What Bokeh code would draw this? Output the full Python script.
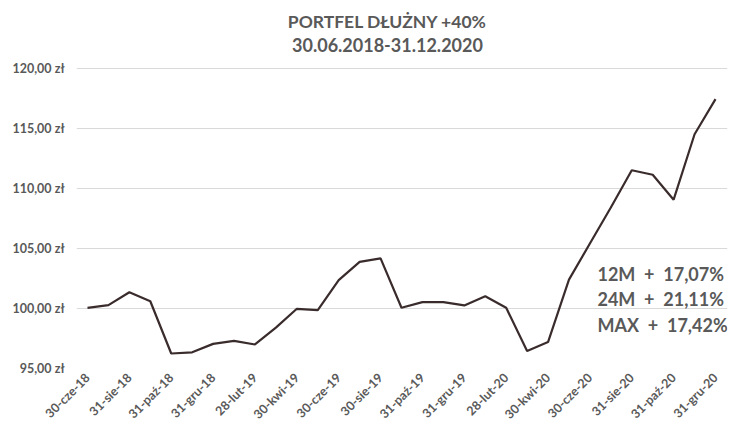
import math
from bokeh.plotting import figure
from bokeh.models import FixedTicker, Label, ColumnDataSource
from bokeh.embed import file_html
from bokeh.resources import INLINE

# ---- data ----
title_lines = ["PORTFEL DŁUŻNY +40%", "30.06.2018-31.12.2020"]
values = [100.05, 100.27, 101.35, 100.60, 96.25, 96.35, 97.05, 97.30, 97.00,
          98.40, 99.97, 99.86, 102.35, 103.87, 104.17, 100.06, 100.52, 100.52,
          100.25, 101.02, 100.06, 96.46, 97.20, 102.40, 105.40, 108.40, 111.50,
          111.13, 109.05, 114.50, 117.42]
tick_labels = ["30-cze-18", "31-sie-18", "31-paź-18", "31-gru-18", "28-lut-19",
               "30-kwi-19", "30-cze-19", "30-sie-19", "31-paź-19", "31-gru-19",
               "28-lut-20", "30-kwi-20", "30-cze-20", "31-sie-20", "31-paź-20",
               "31-gru-20"]
y_ticks = [95, 100, 105, 110, 115, 120]
y_tick_labels = ["95,00 zł", "100,00 zł", "105,00 zł", "110,00 zł", "115,00 zł", "120,00 zł"]
NB = "\u00a0"
stats_lines = ["12M" + NB * 2 + "+" + NB * 2 + "17,07%",
               "24M" + NB * 2 + "+" + NB * 2 + "21,11%",
               "MAX" + NB * 2 + "+" + NB * 2 + "17,42%"]

idx = list(range(len(values)))
src = ColumnDataSource(dict(x=idx, y=values))

GREY = "#595959"
FONT = "Lato"

p = figure(width=729, height=430, output_backend="svg", toolbar_location=None,
           x_range=(-0.5255, 30.573), y_range=(95, 125.63),
           min_border_left=76, min_border_right=2, min_border_top=0,
           min_border_bottom=60)
p.outline_line_color = None
p.background_fill_color = "white"

p.line("x", "y", source=src, line_color="#3A2C2C", line_width=2.2)

# axes
p.xaxis.ticker = FixedTicker(ticks=idx[::2])
p.xaxis.major_label_overrides = {i: lab for i, lab in zip(idx[::2], tick_labels)}
p.xaxis.major_label_orientation = math.pi / 4
p.yaxis.ticker = FixedTicker(ticks=y_ticks)
p.yaxis.major_label_overrides = {t: lab for t, lab in zip(y_ticks, y_tick_labels)}
for ax in (p.xaxis, p.yaxis):
    ax.axis_line_color = None
    ax.major_tick_line_color = None
    ax.minor_tick_line_color = None
    ax.major_tick_out = 0
    ax.major_tick_in = 0
    ax.minor_tick_out = 0
    ax.minor_tick_in = 0
    ax.major_label_text_color = GREY
    ax.major_label_text_font = FONT
    ax.major_label_text_font_style = "bold"
p.xaxis.major_label_text_font_size = "12.5px"
p.xaxis.major_label_text_line_height = 1.0
p.yaxis.major_label_text_font_size = "12.5px"
p.yaxis.major_label_standoff = 12
p.xaxis.major_label_standoff = 7

p.xgrid.grid_line_color = None
p.ygrid.ticker = FixedTicker(ticks=y_ticks)
p.ygrid.grid_line_color = "#D9D9D9"
p.ygrid.grid_line_width = 1.2

# title
for text, yy, fs in zip(title_lines, [123.89, 121.90], ["17.5px", "18px"]):
    p.add_layout(Label(x=14.33, y=yy, text=text, text_align="center",
                       text_baseline="middle", text_font=FONT,
                       text_font_style="bold", text_font_size=fs,
                       text_color=GREY))

# stats annotation
for text, yy in zip(stats_lines, [102.86, 100.75, 98.64]):
    p.add_layout(Label(x=24.36, y=yy, text=text, text_align="left",
                       text_baseline="middle", text_font=FONT,
                       text_font_style="bold", text_font_size="18px",
                       text_color=GREY))

open("out.html", "w").write(file_html(p, INLINE))
